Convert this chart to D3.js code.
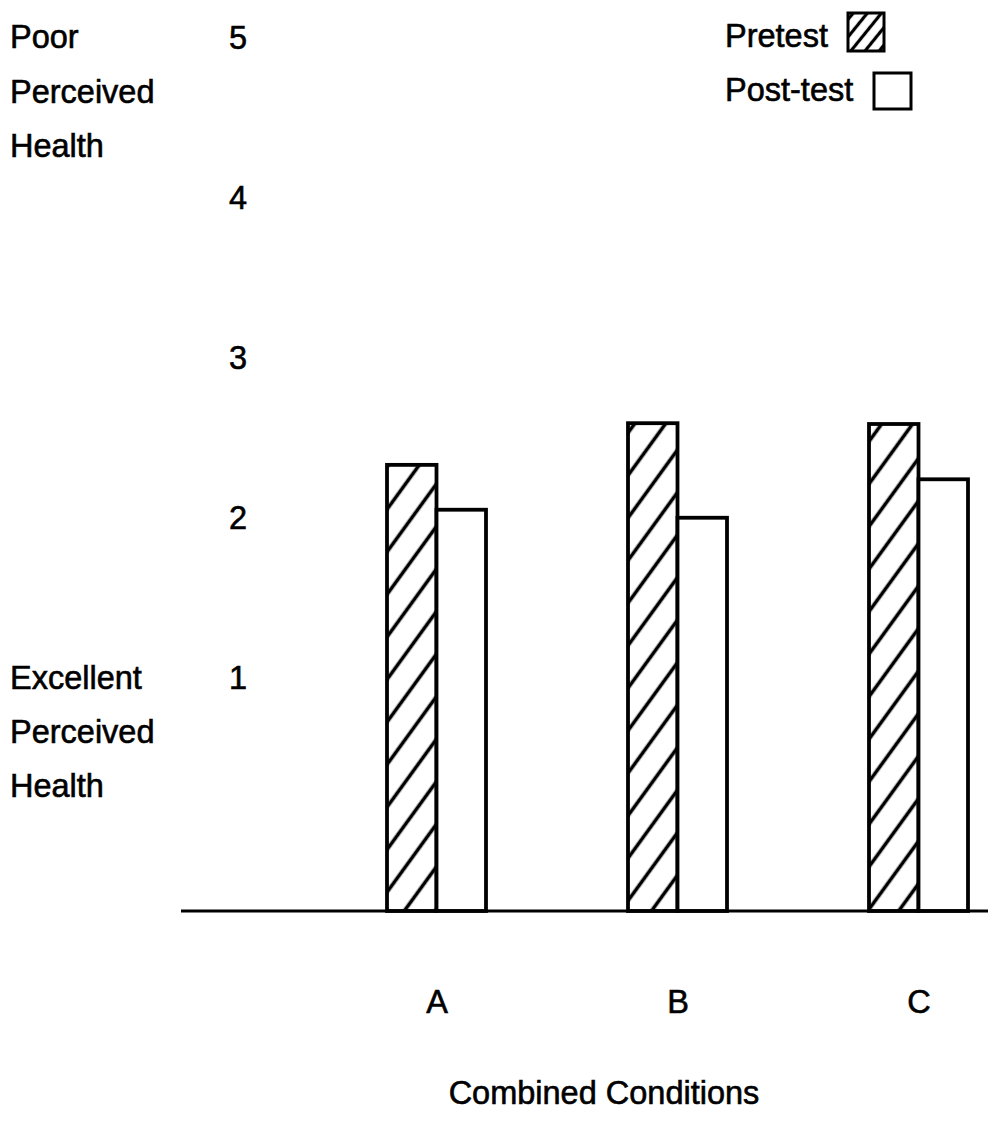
<!DOCTYPE html>
<html>
<head>
<meta charset="utf-8">
<script src="https://cdn.jsdelivr.net/npm/d3@7"></script>
<style>
  html, body { margin: 0; padding: 0; background: #fff; }
  svg { display: block; }
  text { font-family: "Liberation Sans", Arial, Helvetica, sans-serif; fill: #000; stroke: #000; stroke-width: 0.6px; }
</style>
</head>
<body>
<svg id="chart" width="988" height="1125"></svg>
<script>
// ---- Data ----
const categories = ["A", "B", "C"];
const seriesNames = ["Pretest", "Post-test"];
const pretestValues = [2.33, 2.59, 2.585];
const posttestValues = [2.05, 2.00, 2.24];
const yTickValues = [5, 4, 3, 2, 1];
const topAxisLabel = ["Poor", "Perceived", "Health"];
const bottomAxisLabel = ["Excellent", "Perceived", "Health"];
const xAxisTitle = "Combined Conditions";

// ---- Setup ----
const svg = d3.select("#chart");
const fontSize = 32.5;

const defs = svg.append("defs");
const pat = defs.append("pattern")
  .attr("id", "hatch")
  .attr("patternUnits", "userSpaceOnUse")
  .attr("width", 25).attr("height", 25)
  .attr("patternTransform", "rotate(36)");
pat.append("rect").attr("width", 25).attr("height", 25).attr("fill", "#fff");
pat.append("line")
  .attr("x1", 12.5).attr("y1", 0).attr("x2", 12.5).attr("y2", 25)
  .attr("stroke", "#000").attr("stroke-width", 3.6);

const legPat = defs.append("pattern")
  .attr("id", "hatchLegend")
  .attr("patternUnits", "userSpaceOnUse")
  .attr("width", 11).attr("height", 11)
  .attr("patternTransform", "translate(847,12) rotate(39)");
legPat.append("rect").attr("width", 11).attr("height", 11).attr("fill", "#fff");
legPat.append("line")
  .attr("x1", 5.5).attr("y1", 0).attr("x2", 5.5).attr("y2", 11)
  .attr("stroke", "#000").attr("stroke-width", 3.2);

// scales
const baseValue = -0.454;
const y = d3.scaleLinear().domain([baseValue, 5]).range([911, 37]);
const x = d3.scalePoint().domain(categories).range([437, 919]);
const xs = d3.scaleBand().domain(seriesNames).range([-50, 49]).padding(0);

const rows = categories.map((c, i) => ({
  cat: c,
  vals: [
    { series: "Pretest", v: pretestValues[i] },
    { series: "Post-test", v: posttestValues[i] }
  ]
}));

// bars
const g = svg.append("g");
rows.forEach(r => {
  r.vals.forEach(d => {
    g.append("rect")
      .attr("x", x(r.cat) + xs(d.series))
      .attr("y", y(d.v))
      .attr("width", xs.bandwidth())
      .attr("height", y(baseValue) - y(d.v))
      .attr("fill", d.series === "Pretest" ? "url(#hatch)" : "#fff")
      .attr("stroke", "#000")
      .attr("stroke-width", 3.8);
  });
});

// baseline
svg.append("line")
  .attr("x1", 181).attr("x2", 988)
  .attr("y1", y(baseValue)).attr("y2", y(baseValue))
  .attr("stroke", "#000").attr("stroke-width", 3.2);

// y tick labels
svg.selectAll("text.ytick").data(yTickValues).enter().append("text")
  .attr("class", "ytick")
  .attr("x", 238)
  .attr("y", d => y(d) + 11.5)
  .attr("text-anchor", "middle")
  .attr("font-size", fontSize)
  .text(d => d);

// left labels
svg.selectAll("text.topl").data(topAxisLabel).enter().append("text")
  .attr("x", 10).attr("y", (d, i) => 48 + i * 54.5)
  .attr("font-size", fontSize).text(d => d);
svg.selectAll("text.botl").data(bottomAxisLabel).enter().append("text")
  .attr("x", 10).attr("y", (d, i) => 689 + i * 54)
  .attr("font-size", fontSize).text(d => d);

// category labels
svg.selectAll("text.cat").data(categories).enter().append("text")
  .attr("x", d => x(d))
  .attr("y", 1013)
  .attr("text-anchor", "middle")
  .attr("font-size", fontSize)
  .text(d => d);

// x title
svg.append("text")
  .attr("x", 604).attr("y", 1104)
  .attr("text-anchor", "middle")
  .attr("font-size", fontSize)
  .text(xAxisTitle);

// legend
svg.append("text").attr("x", 725).attr("y", 47).attr("font-size", fontSize).text(seriesNames[0]);
svg.append("rect").attr("x", 848).attr("y", 13).attr("width", 36).attr("height", 38)
  .attr("fill", "url(#hatchLegend)").attr("stroke", "#000").attr("stroke-width", 3);
svg.append("text").attr("x", 725).attr("y", 101).attr("font-size", fontSize).text(seriesNames[1]);
svg.append("rect").attr("x", 874).attr("y", 73).attr("width", 37).attr("height", 36)
  .attr("fill", "#fff").attr("stroke", "#000").attr("stroke-width", 3);
</script>
</body>
</html>
